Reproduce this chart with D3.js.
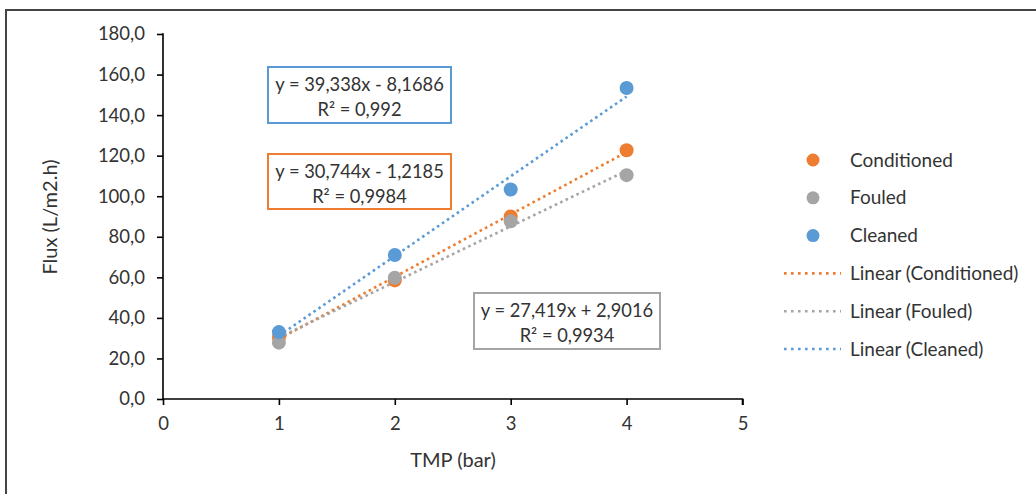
<!DOCTYPE html>
<html>
<head>
<meta charset="utf-8">
<script src="https://cdn.jsdelivr.net/npm/d3@7"></script>
<style>
  html, body { margin: 0; padding: 0; background: #fff; }
  svg { display: block; }
  text { font-family: Lato, "Open Sans", sans-serif; fill: #333; }
</style>
</head>
<body>
<svg id="chart" width="1036" height="494"></svg>
<script>
// Transmembrane pressure (bar) at which flux was measured
const tmp = [1, 2, 3, 4];

// Measured permeate flux (L/m2.h) for each membrane state
const conditioned = [30.3, 58.5, 90.0, 122.7];
const fouled = [27.8, 59.8, 87.6, 110.4];
const cleaned = [33.0, 71.0, 103.3, 153.4];

// Linear trendline coefficients (slope, intercept) and R² per series
const seriesNames = ["Conditioned", "Fouled", "Cleaned"];
const slopes = [30.744, 27.419, 39.338];
const intercepts = [-1.2185, 2.9016, -8.1686];
const rSquared = ["0,9984", "0,9934", "0,992"];

// Axis ticks
const xTicks = [0, 1, 2, 3, 4, 5];
const yTicks = [0, 20, 40, 60, 80, 100, 120, 140, 160, 180];

const colors = ["#ED7D31", "#A5A5A5", "#5B9BD5"];
const values = [conditioned, fouled, cleaned];

const svg = d3.select("#chart");

// Outer frame (only its top and left edges fall inside the view)
svg.append("rect")
  .attr("x", 6).attr("y", 10)
  .attr("width", 1100).attr("height", 600)
  .attr("fill", "none")
  .attr("stroke", "#444").attr("stroke-width", 2);

const x = d3.scaleLinear().domain([0, 5]).range([163, 742.5]);
const y = d3.scaleLinear().domain([0, 180]).range([399, 34]);

const comma = d => d3.format(".1f")(d).replace(".", ",");

// Y axis
const yAxis = svg.append("g")
  .attr("transform", `translate(${x(0)},0)`)
  .call(d3.axisLeft(y).tickValues(yTicks).tickSize(6).tickPadding(12).tickFormat(comma));

// X axis
const xAxis = svg.append("g")
  .attr("transform", `translate(0,${y(0)})`)
  .call(d3.axisBottom(x).tickValues(xTicks).tickSize(6).tickPadding(12).tickFormat(d3.format("d")));

[yAxis, xAxis].forEach(g => {
  g.select(".domain").attr("stroke", "#000").attr("stroke-width", 1.6);
  g.selectAll(".tick line").attr("stroke", "#000").attr("stroke-width", 1.6);
  g.selectAll(".tick text")
    .attr("font-family", "Lato, 'Open Sans', sans-serif")
    .attr("font-size", 18.5)
    .attr("fill", "#333");
});
// Remove the outer end ticks d3 draws on the domain path
yAxis.select(".domain").attr("d", `M0,${y(0)}V${y(180)}H-1`);
xAxis.select(".domain").attr("d", `M${x(0)},0H${x(5)}V6`);

// Axis titles
svg.append("text")
  .attr("x", 453).attr("y", 467)
  .attr("text-anchor", "middle")
  .attr("font-size", 20)
  .text("TMP (bar)");

svg.append("text")
  .attr("transform", "translate(57,217) rotate(-90)")
  .attr("text-anchor", "middle")
  .attr("font-size", 20)
  .text("Flux (L/m2.h)");

// Trendlines from x=1 to x=4
const line = d3.line().x(d => x(d[0])).y(d => y(d[1]));
const xMin = d3.min(tmp), xMax = d3.max(tmp);
seriesNames.forEach((name, i) => {
  const pts = [xMin, xMax].map(t => [t, slopes[i] * t + intercepts[i]]);
  svg.append("path")
    .attr("d", line(pts))
    .attr("fill", "none")
    .attr("stroke", colors[i])
    .attr("stroke-width", 2.6)
    .attr("stroke-dasharray", "2.6,3.4");
});

// Data points (drawn in series order so Cleaned sits on top)
seriesNames.forEach((name, i) => {
  svg.append("g").selectAll("circle")
    .data(tmp.map((t, j) => [t, values[i][j]]))
    .join("circle")
    .attr("cx", d => x(d[0]))
    .attr("cy", d => y(d[1]))
    .attr("r", 7)
    .attr("fill", colors[i]);
});

// Equation labels
const eqText = i => {
  const s = slopes[i], b = intercepts[i];
  const sign = b < 0 ? " - " : " + ";
  return `y = ${String(s).replace(".", ",")}x${sign}${String(Math.abs(b)).replace(".", ",")}`;
};
const boxes = [
  { i: 2, x0: 268, y0: 67, x1: 451, y1: 123 },
  { i: 0, x0: 268, y0: 154, x1: 451, y1: 209 },
  { i: 1, x0: 474, y0: 293, x1: 660, y1: 349 }
];
boxes.forEach(b => {
  svg.append("rect")
    .attr("x", b.x0).attr("y", b.y0)
    .attr("width", b.x1 - b.x0).attr("height", b.y1 - b.y0)
    .attr("fill", "#fff")
    .attr("stroke", colors[b.i])
    .attr("stroke-width", 2);
  const cx = (b.x0 + b.x1) / 2;
  svg.append("text")
    .attr("x", cx).attr("y", b.y0 + 24)
    .attr("text-anchor", "middle")
    .attr("font-size", 18.3)
    .attr("fill", "#222")
    .text(eqText(b.i));
  svg.append("text")
    .attr("x", cx).attr("y", b.y0 + 49)
    .attr("text-anchor", "middle")
    .attr("font-size", 18.3)
    .attr("fill", "#222")
    .text(`R² = ${rSquared[b.i]}`);
});

// Legend
const legendRows = [];
seriesNames.forEach((n, i) => legendRows.push({ type: "dot", label: n, c: colors[i] }));
seriesNames.forEach((n, i) => legendRows.push({ type: "line", label: `Linear (${n})`, c: colors[i] }));
const legendY = d3.scaleLinear().domain([0, 5]).range([160, 349]);
const lg = svg.append("g");
legendRows.forEach((r, k) => {
  const yy = legendY(k);
  if (r.type === "dot") {
    lg.append("circle").attr("cx", 813).attr("cy", yy).attr("r", 6.5).attr("fill", r.c);
  } else {
    lg.append("line")
      .attr("x1", 784).attr("x2", 841).attr("y1", yy).attr("y2", yy)
      .attr("stroke", r.c).attr("stroke-width", 2.6)
      .attr("stroke-dasharray", "2.6,4.4");
  }
  lg.append("text")
    .attr("x", 850).attr("y", yy)
    .attr("dy", "0.35em")
    .attr("font-size", 19)
    .text(r.label);
});
</script>
</body>
</html>
